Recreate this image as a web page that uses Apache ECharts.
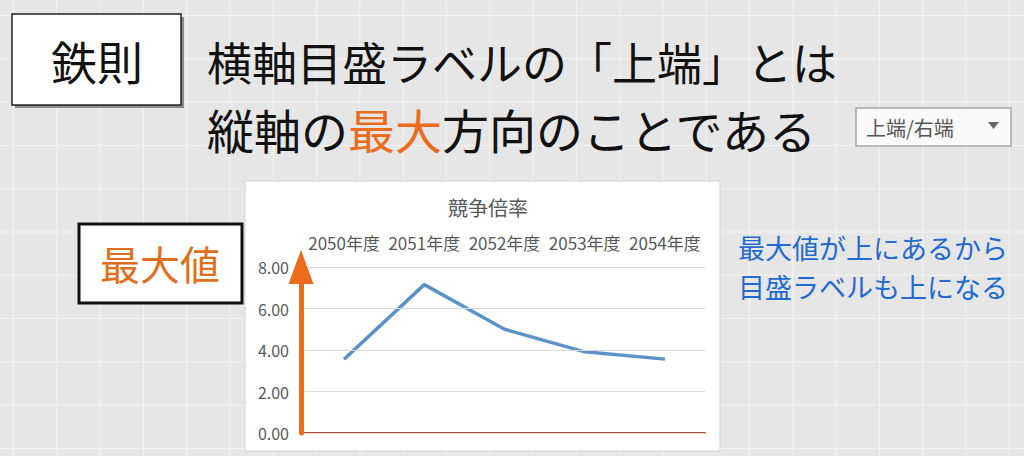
<!DOCTYPE html>
<html>
<head>
<meta charset="utf-8">
<script src="https://cdn.jsdelivr.net/npm/echarts@6/dist/echarts.min.js"></script>
<style>
	html, body { margin: 0; padding: 0; }
	body {
		width: 1024px; height: 456px; overflow: hidden;
		background-color: #e6e6e6;
		background-image:
			linear-gradient(to right, #f4f4f4 1px, transparent 1px),
			linear-gradient(to bottom, #f4f4f4 1px, transparent 1px);
		background-size: 43.3px 43.3px;
		background-position: 13px 15px;
	}
	#chart { width: 1024px; height: 456px; }
</style>
</head>
<body>
<div id="chart"></div>
<script>
// 競争倍率
var categories = ['2050年度', '2051年度', '2052年度', '2053年度', '2054年度'];
var ratios = [3.55, 7.15, 5.0, 3.91, 3.56];
var yMin = 0, yMax = 8, yStep = 2;

var jp = '"Noto Sans CJK JP", "Noto Sans", sans-serif';
var orange = '#ec6c1c';

var myChart = echarts.init(document.getElementById('chart'), null, {renderer: 'svg'});
var option = {
	backgroundColor: 'transparent',
	textStyle: { fontFamily: jp },
	title: {
		text: '競争倍率',
		left: 483,
		top: 192,
		textAlign: 'center',
		textStyle: { color: '#595959', fontSize: 20, fontWeight: 'normal', fontFamily: jp }
	},
	grid: { left: 304, right: 319, top: 267, bottom: 23, containLabel: false },
	xAxis: [
		{
			type: 'category',
			position: 'bottom',
			data: categories,
			boundaryGap: true,
			axisLine: { show: true, onZero: false, lineStyle: { color: '#b5463a', width: 2 } },
			axisTick: { show: false },
			axisLabel: { show: false },
			splitLine: { show: false },
			z: 1
		},
		{
			type: 'category',
			position: 'top',
			data: categories,
			boundaryGap: true,
			axisLine: { show: false },
			axisTick: { show: false },
			axisLabel: { color: '#595959', fontSize: 17, margin: 16, interval: 0, fontFamily: jp },
			splitLine: { show: false }
		}
	],
	yAxis: {
		type: 'value',
		min: yMin,
		max: yMax,
		interval: yStep,
		offset: 3,
		axisLine: {
			show: true,
			symbol: ['none', 'triangle'],
			symbolSize: [25, 34],
			lineStyle: { color: orange, width: 5 }
		},
		axisTick: { show: false },
		axisLabel: {
			color: '#595959', fontSize: 16, margin: 12, fontFamily: jp,
			formatter: function(v) { return v.toFixed(2); }
		},
		splitLine: { lineStyle: { color: '#d9d9d9', width: 1 } },
		z: 5
	},
	series: [
		{
			name: '競争倍率',
			type: 'line',
			xAxisIndex: 0,
			data: ratios,
			symbol: 'none',
			lineStyle: { color: '#5b93c9', width: 3.5 },
			itemStyle: { color: '#5b93c9' },
			z: 3
		}
	],
	graphic: [
		// chart area
		{ type: 'rect', z: -10, shape: { x: 245, y: 181, width: 475, height: 270 },
		  style: { fill: '#ffffff', stroke: '#d4d4d4', lineWidth: 1 } },
		// 鉄則 box
		{ type: 'rect', z: -9, shape: { x: 15, y: 17, width: 169, height: 91 },
		  style: { fill: '#8a8a8a' } },
		{ type: 'rect', z: -8, shape: { x: 12, y: 14, width: 169, height: 91 },
		  style: { fill: '#ffffff', stroke: '#222222', lineWidth: 1.5 } },
		{ type: 'text', x: 97, y: 60, style: { text: '鉄則', fill: '#111111', fontSize: 46,
		  fontFamily: jp, align: 'center', verticalAlign: 'middle' } },
		// headline
		{ type: 'text', x: 207, y: 61, style: { text: '横軸目盛ラベルの「上端」とは', fill: '#111111',
		  fontSize: 45, fontFamily: jp, align: 'left', verticalAlign: 'middle' } },
		{ type: 'text', x: 207, y: 128, style: {
		  text: '{k|縦軸の}{o|最大}{k|方向のことである}',
		  fontSize: 47, fontFamily: jp, align: 'left', verticalAlign: 'middle',
		  rich: {
			k: { fill: '#111111', fontSize: 47, fontFamily: jp },
			o: { fill: orange, fontSize: 47, fontFamily: jp }
		  } } },
		// dropdown
		{ type: 'rect', z: -8, shape: { x: 856, y: 108, width: 155, height: 38 },
		  style: { fill: '#fafafa', stroke: '#a6a6a6', lineWidth: 1.5 } },
		{ type: 'text', x: 866, y: 127, style: { text: '上端/右端', fill: '#555555', fontSize: 20,
		  fontFamily: jp, align: 'left', verticalAlign: 'middle' } },
		{ type: 'polygon', shape: { points: [[988, 122], [999, 122], [993.5, 129]] },
		  style: { fill: '#666666' } },
		// 最大値 box
		{ type: 'rect', z: -8, shape: { x: 79, y: 224, width: 163, height: 79 },
		  style: { fill: '#ffffff', stroke: '#111111', lineWidth: 3 } },
		{ type: 'text', x: 160, y: 263, style: { text: '最大値', fill: '#e0701e', fontSize: 40,
		  fontFamily: jp, align: 'center', verticalAlign: 'middle' } },
		// note
		{ type: 'text', x: 738, y: 247, style: { text: '最大値が上にあるから', fill: '#1f6bd1',
		  fontSize: 27, fontFamily: jp, align: 'left', verticalAlign: 'middle' } },
		{ type: 'text', x: 738, y: 286, style: { text: '目盛ラベルも上になる', fill: '#1f6bd1',
		  fontSize: 27, fontFamily: jp, align: 'left', verticalAlign: 'middle' } }
	]
};
myChart.setOption(option);
</script>
</body>
</html>
